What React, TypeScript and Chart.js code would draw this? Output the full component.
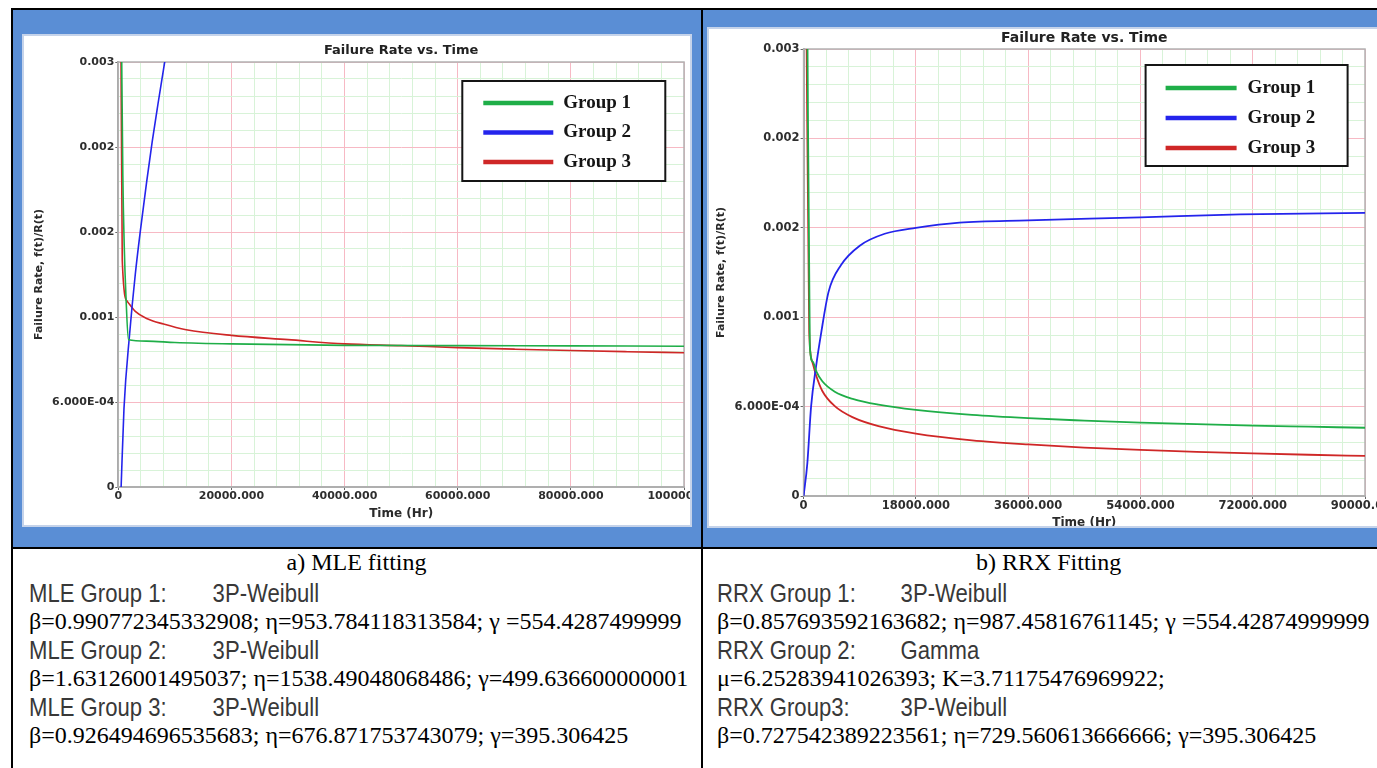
import React, { useEffect, useRef } from "react";
import { Chart, registerables } from "chart.js";

Chart.register(...registerables);

// ---- series styling ----
const groupNames = ["Group 1", "Group 2", "Group 3"];
const groupColors = ["#1fae48", "#2424ec", "#cf2727"];

// ---- MLE fits: failure rate f(t)/R(t) vs time (Hr) ----
const mleGroup1Time = [560, 800, 1050, 1350, 1800, 5000, 10000, 20000, 40000, 60000, 80000, 100000];
const mleGroup1Rate = [0.0032, 0.0022, 0.0017, 0.00135, 0.00104, 0.00103, 0.00102, 0.00101, 0.001, 0.000998, 0.000996, 0.000994];
const mleGroup2Time = [500, 1000, 2000, 3000, 4000, 5000, 6000, 7000, 8000, 9000];
const mleGroup2Rate = [0, 0.00055, 0.00108, 0.0015, 0.00184, 0.00215, 0.00244, 0.0027, 0.00295, 0.0032];
const mleGroup3Time = [420, 700, 1600, 3000, 5000, 8000, 12000, 20000, 30000, 40000, 50000, 60000, 70000, 80000, 90000, 100000];
const mleGroup3Rate = [0.0035, 0.0016, 0.00131, 0.00124, 0.00119, 0.00115, 0.00111, 0.00107, 0.00104, 0.00101, 0.000998, 0.000984, 0.000973, 0.000963, 0.000955, 0.000948];

// ---- RRX fits ----
const rrxGroup1Time = [560, 1000, 1500, 2000, 3000, 5000, 8000, 12000, 18000, 27000, 36000, 45000, 54000, 63000, 72000, 81000, 90000];
const rrxGroup1Rate = [0.0035, 0.001, 0.0009, 0.00084, 0.00077, 0.0007, 0.00065, 0.000613, 0.000578, 0.000544, 0.000522, 0.000506, 0.000492, 0.000482, 0.000472, 0.000465, 0.000458];
const rrxGroup2Time = [0, 600, 1200, 2000, 2800, 4000, 6000, 9000, 13000, 18000, 25000, 36000, 54000, 70000, 90000];
const rrxGroup2Rate = [0, 0.00022, 0.0006, 0.00087, 0.00109, 0.00137, 0.00155, 0.00168, 0.00176, 0.0018, 0.001835, 0.00185, 0.00187, 0.00189, 0.0019];
const rrxGroup3Time = [400, 900, 1400, 2000, 3000, 5000, 8000, 12000, 18000, 27000, 36000, 45000, 54000, 63000, 72000, 81000, 90000];
const rrxGroup3Rate = [0.0035, 0.0011, 0.0009, 0.00081, 0.000705, 0.000603, 0.000526, 0.000469, 0.000419, 0.000374, 0.000346, 0.000325, 0.000309, 0.000296, 0.000286, 0.000277, 0.000269];

// ---- axis ticks ----
const rateTicks = [0, 0.0006, 0.0012, 0.0018, 0.0024, 0.003];
const rateTickLabels = ["0", "6.000E-04", "0.001", "0.002", "0.002", "0.003"];
const mleTimeTicks = [0, 20000, 40000, 60000, 80000, 100000];
const mleTimeTickLabels = ["0", "20000.000", "40000.000", "60000.000", "80000.000", "100000.000"];
const rrxTimeTicks = [0, 18000, 36000, 54000, 72000, 90000];
const rrxTimeTickLabels = ["0", "18000.000", "36000.000", "54000.000", "72000.000", "90000.000"];

// ---- parameter notes under each chart ----
const mleCaption = "a) MLE fitting";
const rrxCaption = "b) RRX Fitting";
const mleModels = [
  ["MLE Group 1:", "3P-Weibull"],
  ["MLE Group 2:", "3P-Weibull"],
  ["MLE Group 3:", "3P-Weibull"],
];
const mleParams = [
  "β=0.990772345332908; η=953.784118313584; γ =554.4287499999",
  "β=1.63126001495037; η=1538.49048068486; γ=499.636600000001",
  "β=0.926494696535683; η=676.871753743079; γ=395.306425",
];
const rrxModels = [
  ["RRX Group 1:", "3P-Weibull"],
  ["RRX Group 2:", "Gamma"],
  ["RRX Group3:", "3P-Weibull"],
];
const rrxParams = [
  "β=0.857693592163682; η=987.45816761145; γ =554.42874999999",
  "μ=6.25283941026393; K=3.71175476969922;",
  "β=0.727542389223561; η=729.560613666666; γ=395.306425",
];

type Series = { time: number[]; rate: number[] };

const mleSeries: Series[] = [
  { time: mleGroup1Time, rate: mleGroup1Rate },
  { time: mleGroup2Time, rate: mleGroup2Rate },
  { time: mleGroup3Time, rate: mleGroup3Rate },
];
const rrxSeries: Series[] = [
  { time: rrxGroup1Time, rate: rrxGroup1Rate },
  { time: rrxGroup2Time, rate: rrxGroup2Rate },
  { time: rrxGroup3Time, rate: rrxGroup3Rate },
];

const AXIS_FONT = "'DejaVu Sans', Verdana, sans-serif";

// major ticks plus four minor subdivisions between each pair
function withMinor(majors: number[], parts: number) {
  const all = [...majors];
  for (let i = 0; i < majors.length - 1; i++) {
    for (let k = 1; k < parts; k++) {
      all.push(majors[i] + ((majors[i + 1] - majors[i]) * k) / parts);
    }
  }
  return all.sort((a, b) => a - b);
}

function buildAxis(
  majors: number[],
  labels: string[],
  horizontal: boolean,
  fixedSize: number,
  titleText: string,
  titlePad: number,
  tickSize: number,
  titleSize: number
) {
  const labelOf = new Map<number, string>(majors.map((v, i) => [v, labels[i]]));
  const values = withMinor(majors, 5);
  return {
    type: "linear" as const,
    min: majors[0],
    max: majors[majors.length - 1],
    afterBuildTicks: (s: any) => {
      s.ticks = values.map((v) => ({ value: v }));
    },
    afterFit: (s: any) => {
      if (horizontal) s.height = fixedSize;
      else s.width = fixedSize;
      // let edge labels overhang instead of shrinking the plot area
      s.paddingLeft = 0;
      s.paddingRight = 0;
      s.paddingTop = 0;
      s.paddingBottom = 0;
    },
    ticks: {
      autoSkip: false,
      maxRotation: 0,
      minRotation: 0,
      padding: horizontal ? 0 : 1,
      color: "#2e2e2e",
      font: { family: AXIS_FONT, size: tickSize, weight: "bold" as const },
      callback: (v: any) => labelOf.get(v) ?? "",
    },
    grid: {
      color: (c: any) => (c.tick && labelOf.has(c.tick.value) ? "#f7b9c4" : "#d8f3d8"),
      tickColor: (c: any) => (c.tick && labelOf.has(c.tick.value) ? "#666" : "rgba(0,0,0,0)"),
      tickLength: 3,
      lineWidth: 1,
    },
    border: { display: true, color: "#a6a6a6", width: 2 },
    title: {
      display: true,
      text: titleText,
      color: "#2a2a2a",
      font: { family: AXIS_FONT, size: titleSize, weight: "bold" as const, lineHeight: 1.2 },
      padding: horizontal ? { top: 0, bottom: titlePad } : { top: titlePad, bottom: 0 },
    },
  };
}

// grey frame round the plot area
const plotFramePlugin = {
  id: "plotFrame",
  beforeDatasetsDraw(chart: any) {
    const { ctx, chartArea: a } = chart;
    ctx.save();
    ctx.strokeStyle = "#b2b2b2";
    ctx.lineWidth = 1.5;
    ctx.strokeRect(a.left, a.top, a.right - a.left, a.bottom - a.top);
    ctx.restore();
  },
};

// boxed legend inside the plot, upper right
const legendBoxPlugin = {
  id: "legendBox",
  afterDatasetsDraw(chart: any, _args: any, o: any) {
    const { ctx, chartArea } = chart;
    const x = chartArea.left + o.dx;
    const y = chartArea.top + o.dy;
    ctx.save();
    ctx.fillStyle = "#ffffff";
    ctx.fillRect(x, y, o.width, o.height);
    ctx.strokeStyle = "#151515";
    ctx.lineWidth = 2;
    ctx.strokeRect(x, y, o.width, o.height);
    chart.data.datasets.forEach((ds: any, i: number) => {
      const rowY = y + o.firstRow + i * o.rowGap;
      ctx.strokeStyle = ds.borderColor;
      ctx.lineWidth = 4.5;
      ctx.beginPath();
      ctx.moveTo(x + o.lineStart, rowY);
      ctx.lineTo(x + o.lineEnd, rowY);
      ctx.stroke();
      ctx.fillStyle = "#151515";
      ctx.font = "bold 19px 'Liberation Serif', 'Times New Roman', serif";
      ctx.textBaseline = "middle";
      ctx.fillText(ds.label, x + o.textStart, rowY);
    });
    ctx.restore();
  },
};

type Look = {
  width: number;
  height: number;
  yAxisWidth: number;
  xAxisHeight: number;
  padRight: number;
  titleSize: number;
  titlePadTop: number;
  titlePadBottom: number;
  tickSize: number;
  yTitleSize: number;
  yTitlePad: number;
  xTitleSize: number;
  xTitlePad: number;
  lineWidth: number;
  blur: number;
  legend: Record<string, number>;
};

function RateChart({
  series,
  timeTicks,
  timeTickLabels,
  look,
}: {
  series: Series[];
  timeTicks: number[];
  timeTickLabels: string[];
  look: Look;
}) {
  const ref = useRef<HTMLCanvasElement>(null);
  useEffect(() => {
    const chart = new Chart(ref.current as HTMLCanvasElement, {
      type: "scatter",
      data: {
        datasets: series.map((s, i) => ({
          label: groupNames[i],
          data: s.time.map((t, j) => ({ x: t, y: s.rate[j] })),
          showLine: true,
          borderColor: groupColors[i],
          backgroundColor: groupColors[i],
          borderWidth: look.lineWidth,
          pointRadius: 0,
          cubicInterpolationMode: "monotone" as const,
        })),
      },
      options: {
        animation: false,
        responsive: false,
        maintainAspectRatio: false,
        devicePixelRatio: 1,
        layout: { autoPadding: false, padding: { left: 0, top: 0, right: look.padRight, bottom: 0 } },
        scales: {
          x: buildAxis(timeTicks, timeTickLabels, true, look.xAxisHeight, "Time (Hr)", look.xTitlePad, look.tickSize, look.xTitleSize),
          y: buildAxis(rateTicks, rateTickLabels, false, look.yAxisWidth, "Failure Rate, f(t)/R(t)", look.yTitlePad, look.tickSize, look.yTitleSize),
        },
        plugins: {
          legend: { display: false },
          tooltip: { enabled: false },
          title: {
            display: true,
            text: "Failure Rate vs. Time",
            fullSize: false,
            color: "#222",
            font: { family: AXIS_FONT, size: look.titleSize, weight: "bold", lineHeight: 1.2 },
            padding: { top: look.titlePadTop, bottom: look.titlePadBottom },
          },
          legendBox: look.legend,
        } as any,
      },
      plugins: [plotFramePlugin, legendBoxPlugin],
    });
    return () => chart.destroy();
  }, []);
  return (
    <canvas
      ref={ref}
      width={look.width}
      height={look.height}
      style={{ display: "block", width: look.width, height: look.height, filter: `blur(${look.blur}px)` }}
    />
  );
}

const mleLook: Look = {
  width: 670,
  height: 493,
  yAxisWidth: 96.3,
  xAxisHeight: 40,
  padRight: 8,
  titleSize: 13,
  titlePadTop: 9.2,
  titlePadBottom: 3.2,
  tickSize: 11,
  yTitleSize: 11,
  yTitlePad: 10.7,
  xTitleSize: 12,
  xTitlePad: 5.8,
  lineWidth: 1.6,
  blur: 0.35,
  legend: { dx: 344, dy: 19, width: 203, height: 100, firstRow: 22, rowGap: 29.5, lineStart: 21, lineEnd: 91, textStart: 101 },
};

const rrxLook: Look = {
  width: 670,
  height: 510,
  yAxisWidth: 96.6,
  xAxisHeight: 41,
  padRight: 12,
  titleSize: 14,
  titlePadTop: 2.6,
  titlePadBottom: 2.6,
  tickSize: 11.5,
  yTitleSize: 11,
  yTitlePad: 8,
  xTitleSize: 12,
  xTitlePad: 6.8,
  lineWidth: 1.8,
  blur: 0.6,
  legend: { dx: 342, dy: 16, width: 202, height: 101, firstRow: 23, rowGap: 30, lineStart: 20, lineEnd: 91, textStart: 102 },
};

const SERIF = "'Liberation Serif', 'Times New Roman', serif";
const SANS = "'Liberation Sans', Arial, sans-serif";

const rowCenters = [593, 621, 650, 678, 707, 735];

function Notes({
  left,
  captionCenter,
  caption,
  models,
  params,
}: {
  left: number;
  captionCenter: number;
  caption: string;
  models: string[][];
  params: string[];
}) {
  const lines: React.ReactNode[] = [];
  models.forEach((m, i) => {
    lines.push(
      <div
        key={`m${i}`}
        style={{
          position: "absolute",
          left,
          top: rowCenters[i * 2] - 15,
          height: 30,
          lineHeight: "30px",
          whiteSpace: "nowrap",
          fontFamily: SANS,
          fontSize: 26,
          color: "#383838",
          transform: "scaleX(0.85)",
          transformOrigin: "0 50%",
        }}
      >
        <span>{m[0]}</span>
        <span style={{ position: "absolute", left: 216 }}>{m[1]}</span>
      </div>
    );
    lines.push(
      <div
        key={`p${i}`}
        style={{
          position: "absolute",
          left,
          top: rowCenters[i * 2 + 1] - 15,
          height: 30,
          lineHeight: "30px",
          whiteSpace: "nowrap",
          fontFamily: SERIF,
          fontSize: 24,
          color: "#000",
        }}
      >
        {params[i]}
      </div>
    );
  });
  return (
    <>
      <div
        style={{
          position: "absolute",
          left: captionCenter - 200,
          width: 400,
          top: 562 - 15,
          height: 30,
          lineHeight: "30px",
          textAlign: "center",
          fontFamily: SERIF,
          fontSize: 24,
          color: "#000",
          whiteSpace: "nowrap",
        }}
      >
        {caption}
      </div>
      {lines}
    </>
  );
}

const BLUE = "#5a8ed5";
const PANEL_EDGE = "#c5d3ea";

export default function App() {
  const abs = (l: number, t: number, w: number, h: number, extra: React.CSSProperties = {}): React.CSSProperties => ({
    position: "absolute",
    left: l,
    top: t,
    width: w,
    height: h,
    ...extra,
  });
  return (
    <div style={{ position: "absolute", left: 0, top: 0, width: 1377, height: 768, overflow: "hidden", background: "#fff" }}>
      {/* blue chart cells */}
      <div style={abs(13, 10, 688, 537, { background: BLUE })} />
      <div style={abs(703, 10, 700, 537, { background: BLUE })} />

      {/* MLE chart panel */}
      <div style={abs(22, 34, 670, 493, { background: "#fff", overflow: "hidden" })}>
        <RateChart series={mleSeries} timeTicks={mleTimeTicks} timeTickLabels={mleTimeTickLabels} look={mleLook} />
      </div>
      <div style={abs(22, 34, 670, 493, { border: `2px solid ${PANEL_EDGE}`, boxSizing: "border-box", pointerEvents: "none" })} />

      {/* RRX chart panel */}
      <div style={abs(707, 27, 670, 501, { background: "#fff", overflow: "hidden" })}>
        <RateChart series={rrxSeries} timeTicks={rrxTimeTicks} timeTickLabels={rrxTimeTickLabels} look={rrxLook} />
      </div>
      <div style={abs(707, 27, 680, 501, { border: `2px solid ${PANEL_EDGE}`, boxSizing: "border-box", pointerEvents: "none" })} />

      {/* table rules */}
      <div style={abs(11, 8, 1400, 2, { background: "#000" })} />
      <div style={abs(11, 8, 2, 800, { background: "#000" })} />
      <div style={abs(701, 8, 2, 800, { background: "#000" })} />
      <div style={abs(11, 547, 1400, 2, { background: "#000" })} />

      <Notes left={29} captionCenter={356.5} caption={mleCaption} models={mleModels} params={mleParams} />
      <Notes left={717} captionCenter={1048.6} caption={rrxCaption} models={rrxModels} params={rrxParams} />
    </div>
  );
}
